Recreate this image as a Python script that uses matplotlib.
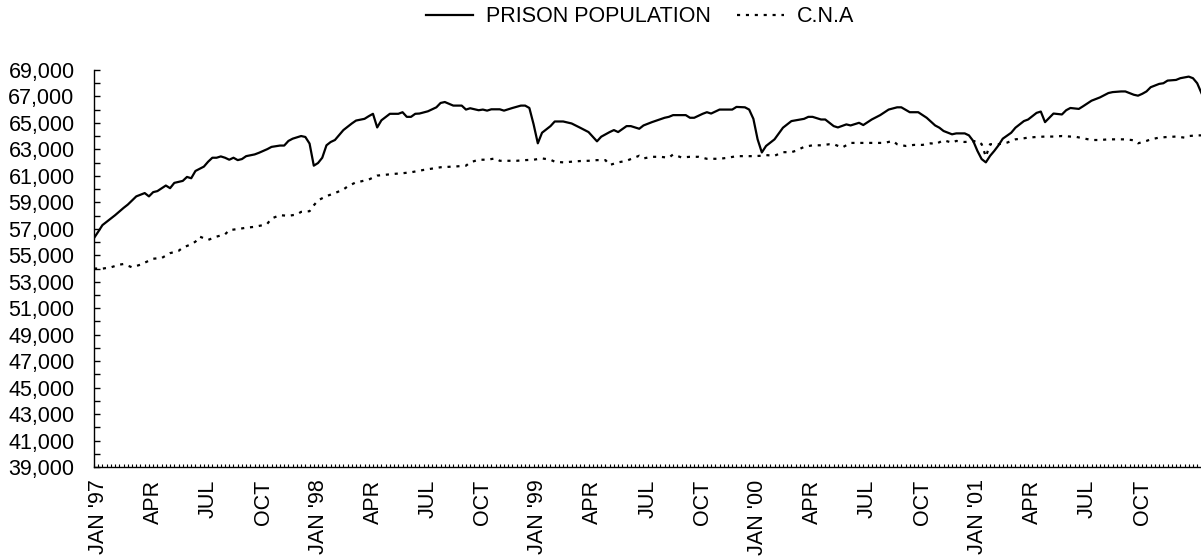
import matplotlib
matplotlib.use("Agg")
import matplotlib.pyplot as plt
from matplotlib.ticker import MultipleLocator, FixedLocator, StrMethodFormatter

plt.rcParams['font.family'] = ['Liberation Sans', 'DejaVu Sans']

# weeks counted from the first week of January 1997
pop_weeks = [0, 1, 2, 5, 7, 8, 10, 12, 13, 14, 15, 17, 18, 19, 21, 22, 23, 24, 26, 27,
             28, 29, 30, 31, 32, 33, 34, 35, 36, 38, 39, 41, 42, 44, 45, 46, 47, 49, 50, 51,
             52, 53, 54, 55, 56, 57, 59, 61, 62, 64, 65, 66, 67, 68, 70, 72, 73, 74, 75, 76,
             77, 79, 81, 82, 83, 85, 87, 88, 89, 91, 92, 93, 94, 96, 97, 99, 101, 102, 103, 104,
             105, 106, 108, 109, 111, 113, 115, 117, 119, 120, 122, 123, 124, 126, 127, 129, 130, 132, 135, 136,
             137, 140, 141, 142, 144, 145, 146, 148, 151, 152, 154, 155, 156, 157, 158, 159, 161, 163, 165, 168,
             169, 170, 172, 173, 175, 176, 178, 179, 181, 182, 184, 186, 188, 190, 191, 193, 195, 196, 197, 199,
             200, 201, 203, 204, 206, 207, 208, 209, 210, 211, 212, 213, 214, 215, 217, 218, 220, 221, 223, 224,
             225, 226, 227, 229, 230, 231, 233, 234, 236, 238, 240, 241, 243, 244, 246, 247, 248, 249, 250, 252,
             253, 254, 256, 257, 259, 260, 261, 262]
prison_pop = [56300, 56780, 57280, 58030, 58580, 58830, 59450, 59700, 59450, 59770, 59850, 60270, 60070, 60470, 60620, 60920, 60820, 61370, 61700, 62070,
              62370, 62370, 62470, 62370, 62220, 62370, 62190, 62270, 62490, 62620, 62740, 63020, 63190, 63290, 63290, 63640, 63810, 64010, 63940, 63440,
              61770, 61970, 62370, 63310, 63560, 63710, 64460, 64960, 65180, 65310, 65510, 65690, 64660, 65200, 65690, 65690, 65810, 65460, 65460, 65690,
              65710, 65880, 66180, 66510, 66580, 66310, 66310, 66010, 66110, 65960, 66010, 65930, 66030, 66030, 65930, 66130, 66310, 66310, 66130, 64900,
              63460, 64260, 64760, 65110, 65110, 64960, 64640, 64310, 63610, 63960, 64310, 64460, 64310, 64760, 64760, 64560, 64810, 65060, 65390, 65460,
              65590, 65590, 65390, 65390, 65690, 65810, 65710, 66010, 66010, 66210, 66180, 66010, 65310, 63760, 62770, 63260, 63760, 64640, 65140, 65310,
              65460, 65460, 65260, 65260, 64760, 64660, 64890, 64810, 65010, 64840, 65260, 65590, 66010, 66180, 66180, 65810, 65810, 65600, 65390, 64810,
              64640, 64390, 64140, 64210, 64210, 64060, 63640, 62890, 62270, 62020, 62510, 62890, 63310, 63810, 64260, 64640, 65140, 65260, 65760, 65860,
              65060, 65390, 65710, 65640, 65960, 66130, 66060, 66260, 66680, 66930, 67260, 67330, 67380, 67380, 67130, 67060, 67200, 67380, 67700, 67950,
              68000, 68200, 68250, 68380, 68500, 68380, 68000, 67260]

cna_weeks = [0, 2, 4, 6, 7, 9, 11, 13, 14, 16, 18, 20, 21, 23, 24, 25, 27, 29, 31, 32,
             34, 36, 38, 40, 41, 42, 44, 46, 48, 49, 51, 52, 53, 55, 57, 59, 60, 62, 63, 65,
             67, 71, 73, 75, 78, 82, 86, 88, 89, 91, 93, 95, 96, 98, 100, 102, 104, 106, 108, 109,
             111, 113, 115, 117, 119, 121, 122, 124, 126, 127, 129, 130, 132, 134, 136, 137, 139, 141, 143, 145,
             147, 148, 150, 152, 154, 156, 158, 159, 161, 163, 165, 166, 168, 170, 172, 174, 175, 177, 179, 181,
             183, 185, 187, 189, 190, 192, 194, 196, 198, 199, 201, 203, 204, 206, 208, 209, 210, 211, 212, 214,
             216, 218, 220, 221, 223, 225, 227, 229, 231, 232, 234, 236, 238, 240, 242, 244, 246, 247, 249, 250,
             252, 254, 256, 258, 259, 261, 262]
cna = [54000, 53990, 54090, 54290, 54340, 54090, 54290, 54590, 54740, 54790, 55160, 55330, 55580, 55830, 56030, 56410, 56160, 56410, 56580, 56900,
       56980, 57080, 57150, 57280, 57380, 57780, 58030, 57980, 58080, 58280, 58330, 58770, 59150, 59470, 59700, 59970, 60200, 60520, 60570, 60720,
       61020, 61150, 61200, 61270, 61450, 61650, 61720, 61770, 62020, 62220, 62220, 62320, 62140, 62140, 62140, 62190, 62220, 62320, 62220, 62070,
       62020, 62070, 62120, 62140, 62190, 62190, 61820, 62020, 62140, 62270, 62520, 62320, 62440, 62440, 62370, 62620, 62390, 62440, 62440, 62290,
       62290, 62290, 62370, 62490, 62490, 62490, 62520, 62570, 62520, 62790, 62790, 62890, 63190, 63310, 63310, 63390, 63390, 63140, 63490, 63490,
       63490, 63490, 63490, 63640, 63390, 63260, 63340, 63340, 63460, 63390, 63690, 63510, 63640, 63560, 63610, 63640, 63400, 62450, 63390, 63390,
       63510, 63760, 63840, 63890, 63940, 63970, 63970, 64010, 63970, 63970, 63840, 63710, 63710, 63760, 63760, 63760, 63690, 63460, 63640, 63760,
       63890, 63940, 63970, 63890, 64010, 64060, 64060]

# quarterly labels every 13 weeks
label_weeks = [1 + 13 * i for i in range(20)]
labels = ["JAN '97", "APR", "JUL", "OCT", "JAN '98", "APR", "JUL", "OCT",
          "JAN '99", "APR", "JUL", "OCT", "JAN '00", "APR", "JUL", "OCT",
          "JAN '01", "APR", "JUL", "OCT"]
y_labels = list(range(39000, 69001, 2000))

fig = plt.figure(figsize=(12.01, 5.59), dpi=100)
ax = fig.add_axes([94 / 1201, 1 - 467 / 559, 1 - 94 / 1201, 397 / 559])

ax.plot(pop_weeks, prison_pop, color='black', lw=1.6, label='PRISON POPULATION')
ax.plot(cna_weeks, cna, color='black', lw=1.6, linestyle=(0, (1.4, 2.6)),
        dash_capstyle='butt', label='C.N.A')

ax.set_xlim(0, 261.9)
ax.set_ylim(39000, 69000)

ax.yaxis.set_major_locator(FixedLocator(y_labels))
ax.yaxis.set_minor_locator(MultipleLocator(1000))
ax.yaxis.set_major_formatter(StrMethodFormatter('{x:,.0f}'))
ax.tick_params(axis='y', which='both', direction='in', length=4.5, width=1, pad=14, labelsize=15.5)

ax.xaxis.set_major_locator(FixedLocator(label_weeks))
ax.xaxis.set_minor_locator(MultipleLocator(1))
ax.set_xticklabels(labels, rotation=90)
ax.tick_params(axis='x', which='both', direction='in', length=2.2, width=0.8, pad=9, labelsize=15.5)

for side in ['top', 'right']:
    ax.spines[side].set_visible(False)
ax.spines['left'].set_linewidth(1)
ax.spines['bottom'].set_linewidth(1)

fig.legend(loc='center', bbox_to_anchor=(640 / 1201, 1 - 17 / 559), ncol=2, frameon=False,
           fontsize=15.5, handlelength=2.2, handletextpad=0.6, columnspacing=1.2, borderpad=0)

fig.savefig('out.png', dpi=100)
